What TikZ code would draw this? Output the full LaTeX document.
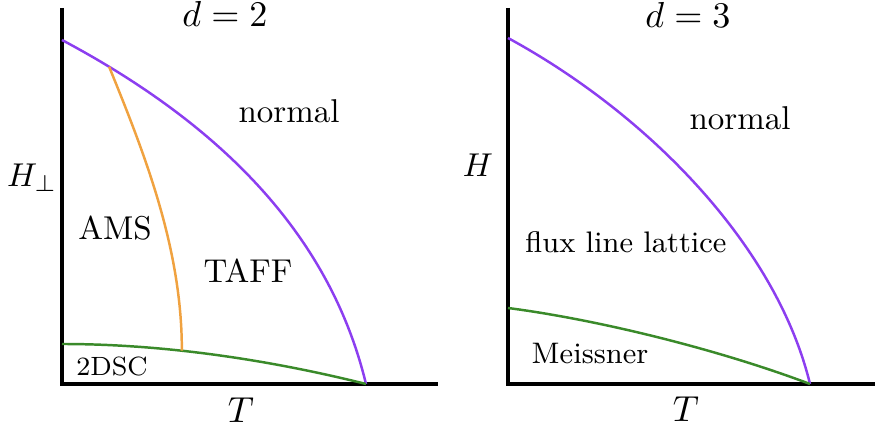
\documentclass[tikz,border=0pt]{standalone}
\usepackage{amsmath,amsfonts}
\usetikzlibrary{arrows,shapes}
\definecolor{pdcpurple}{RGB}{140,62,240}
\definecolor{pdcorange}{RGB}{240,162,64}
\definecolor{pdcgreen}{RGB}{58,138,42}
\tikzstyle{axis}=[line width=1.1pt,black]
\tikzstyle{phline}=[line width=0.75pt]
\tikzstyle{region}=[anchor=base,inner sep=0pt]
\tikzstyle{ttl}=[anchor=base,inner sep=0pt,font=\fontsize{11.3}{13}\selectfont]

\begin{document}
\begin{tikzpicture}[x=0.303pt,y=-0.303pt]
\useasboundingbox (0,0) rectangle (875,431);
% d = 2
\coordinate (O2) at (62,384);
\coordinate (Y2) at (62,8);
\coordinate (X2) at (438,384);
\coordinate (H2) at (62,40);
\coordinate (S2) at (62,344);
\coordinate (T2) at (366,384);
\draw[axis] (Y2)--(O2)--(X2);
\draw[phline,pdcpurple] (H2) .. controls (216,122) and (329,231) .. (T2) coordinate[pos=0.105] (A2);
\draw[phline,pdcgreen] (S2) .. controls (180,344) and (290,365) .. (T2) coordinate[pos=0.35] (B2);
\draw[phline,pdcorange] (A2) .. controls (146,157) and (182,250) .. (B2);
\node[ttl] (t2) at (225,27) {$d=2$};
\node[region] (n2) at (289,123) {normal};
\node[region] (ams) at (115,240) {AMS};
\node[region] (taff) at (248,283) {TAFF};
\node[region,font=\footnotesize] (dsc) at (112,376) {2DSC};
\node[region] (h2) at (32,187) {$H_\perp$};
\node[ttl] (x2) at (241,423) {$T$};
% d = 3
\coordinate (O3) at (508,384);
\coordinate (Y3) at (508,8);
\coordinate (X3) at (875,384);
\coordinate (H3) at (508,38);
\coordinate (S3) at (508,308);
\coordinate (T3) at (810,384);
\draw[axis] (Y3)--(O3)--(X3);
\draw[phline,pdcpurple] (H3) .. controls (646,113) and (776,244) .. (T3);
\draw[phline,pdcgreen] (S3) .. controls (600,320) and (720,350) .. (T3);
\node[ttl] (t3) at (688,28) {$d=3$};
\node[region] (n3) at (740,130) {normal};
\node[region,font=\small] (flx) at (626,253) {flux line lattice};
\node[region,font=\small] (mei) at (590,364) {Meissner};
\node[region] (h3) at (478,177) {$H$};
\node[ttl] (x3) at (686,422) {$T$};
\end{tikzpicture}
\end{document}
